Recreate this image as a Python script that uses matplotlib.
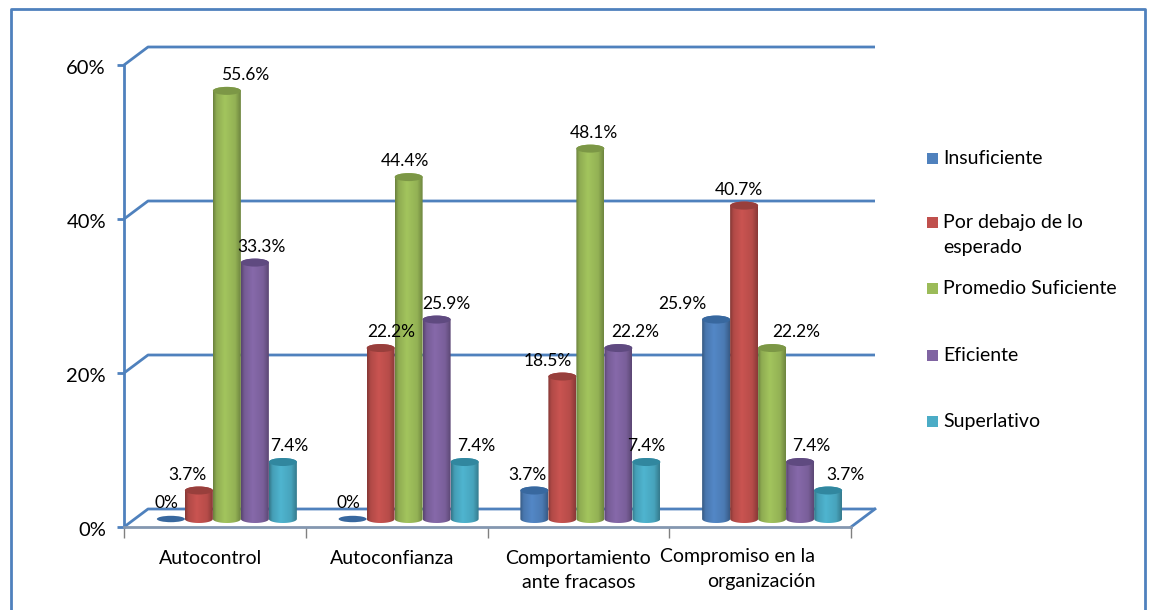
import matplotlib
matplotlib.use('Agg')
import matplotlib.pyplot as plt
import numpy as np
from matplotlib.colors import to_rgb
from matplotlib.lines import Line2D
from matplotlib.patches import Ellipse, Polygon, Rectangle
from matplotlib.transforms import ScaledTranslation

categories = ['Autocontrol', 'Autoconfianza', 'Comportamiento\nante fracasos', 'Compromiso en la\norganización']
series = ['Insuficiente', 'Por debajo de lo\nesperado', 'Promedio Suficiente', 'Eficiente', 'Superlativo']
insuficiente = [0, 0, 3.7, 25.9]
por_debajo = [3.7, 22.2, 18.5, 40.7]
promedio = [55.6, 44.4, 48.1, 22.2]
eficiente = [33.3, 25.9, 22.2, 7.4]
superlativo = [7.4, 7.4, 7.4, 3.7]
values = [insuficiente, por_debajo, promedio, eficiente, superlativo]
y_ticks = [0, 20, 40, 60]

colors = ['#4F81BD', '#C0504D', '#9BBB59', '#8064A2', '#4BACC6']
top_colors = ['#38689F', '#983F3C', '#7C9746', '#5F4A80', '#31879F']
wall = '#4F81BD'
floor = '#8497B0'

# sideways shift of every data label from the centre of its bar, in pixels
label_dx = [[-4, -4, -7, -34],
            [-11, 11, -15, -5],
            [18, -4, 4, 24],
            [7, 10, 17, 11],
            [6, 12, 0, 17]]
legend_y = [158, 222, 288, 355, 421]

W, H = 1149, 610
plt.rcParams['font.family'] = ['Lato', 'DejaVu Sans']

fig = plt.figure(figsize=(W / 100, H / 100), dpi=100, facecolor='white')
ax = fig.add_axes([124 / W, 1 - 527 / H, 727 / W, 462 / H])
ax.patch.set_visible(False)

x_unit = 727 / 4
y_unit = 462 / 60
back_dx = 24 / x_unit
back_dy = 18 / y_unit
bar_w = 28 / x_unit
bar_dx = 12 / x_unit
base = 8 / y_unit
ell_h = 8 / y_unit


def shaded(color):
    pos = np.linspace(0, 1, 40)
    shade = np.interp(pos, [0, 0.12, 0.42, 0.8, 1], [0.7, 0.92, 1.05, 0.95, 0.72])
    rgb = np.array(to_rgb(color))
    return np.clip(shade[None, :, None] * rgb[None, None, :], 0, 1)


def draw_cylinder(x, top, color, top_color):
    if top == 0:
        ax.add_patch(Ellipse((x, base), bar_w, ell_h * 0.8, fc='#38689F', ec='none', zorder=3))
        return
    bottom = np.linspace(np.pi, 2 * np.pi, 30)
    upper = np.linspace(0, np.pi, 30)
    xs = np.r_[x + bar_w / 2 * np.cos(bottom), x + bar_w / 2 * np.cos(upper)]
    ys = np.r_[base + ell_h / 2 * np.sin(bottom), base + top + ell_h / 2 * np.sin(upper)]
    im = ax.imshow(shaded(color), extent=[x - bar_w / 2, x + bar_w / 2, 0, base + top + ell_h],
                   aspect='auto', zorder=3)
    im.set_clip_path(Polygon(np.c_[xs, ys], transform=ax.transData))
    ax.add_patch(Ellipse((x, base + top), bar_w, ell_h, fc=top_color, ec='none', zorder=3))


# walls
for v in y_ticks:
    ax.plot([-0.5, -0.5 + back_dx, 3.5 + back_dx], [v, v + back_dy, v + back_dy],
            color=wall, lw=2, clip_on=False, zorder=1, solid_capstyle='butt')
ax.plot([3.5, 3.5 + back_dx], [0, back_dy], color=wall, lw=2, clip_on=False, zorder=1)

# bars and labels
for i in range(len(categories)):
    for j in range(len(series)):
        x = i + bar_dx + (j - 2) * bar_w
        v = values[j][i]
        draw_cylinder(x, v, colors[j], top_colors[j])
        ax.annotate('%g%%' % v, (x, base + v), xytext=(label_dx[j][i], 16), textcoords='offset pixels',
                    ha='center', va='center', fontsize=12.5, color='black', zorder=5, annotation_clip=False)

ax.set_xlim(-0.5, 3.5)
ax.set_ylim(0, 60)
ax.set_xticks(np.arange(-0.5, 4, 1))
ax.set_xticklabels([])
ax.set_yticks(y_ticks)
ax.set_yticklabels(['%d%%' % v for v in y_ticks], fontsize=14.5)
ax.tick_params(axis='y', color=wall, width=2, length=5, pad=8)
ax.tick_params(axis='x', color='#808080', width=1, length=8)
for label in ax.get_yticklabels():
    label.set_transform(label.get_transform() + ScaledTranslation(0, -2 / 100, fig.dpi_scale_trans))
for s in ['top', 'right']:
    ax.spines[s].set_visible(False)
ax.spines['left'].set_color(wall)
ax.spines['left'].set_linewidth(2)
ax.spines['bottom'].set_color(floor)
ax.spines['bottom'].set_linewidth(2)

# category names
for i, name in enumerate(categories):
    if i == 3:
        ax.annotate(name, (i, 0), xytext=(55, -21), textcoords='offset pixels', ha='right', va='top',
                    multialignment='right', fontsize=14, linespacing=1.55, annotation_clip=False)
    else:
        shift = 0 if i == 2 else -4
        ax.annotate(name, (i, 0), xytext=(shift, -23), textcoords='offset pixels', ha='center', va='top',
                    fontsize=14, linespacing=1.5, annotation_clip=False)

# legend
for name, color, y in zip(series, colors, legend_y):
    fig.add_artist(Rectangle((927 / W, 1 - (y + 6) / H), 11 / W, 11 / H, transform=fig.transFigure,
                             fc=color, ec='none'))
    fig.text(943 / W, 1 - (y - 8) / H, name, ha='left', va='top', fontsize=14, linespacing=1.55)

# chart frame, its lower edge is cut off by the picture
frame_x = [11 / W, 11 / W, 1145 / W, 1145 / W]
frame_y = [0, 1 - 9 / H, 1 - 9 / H, 0]
fig.add_artist(Line2D(frame_x, frame_y, transform=fig.transFigure, color=wall, lw=2))

fig.savefig('out.png', dpi=100)
